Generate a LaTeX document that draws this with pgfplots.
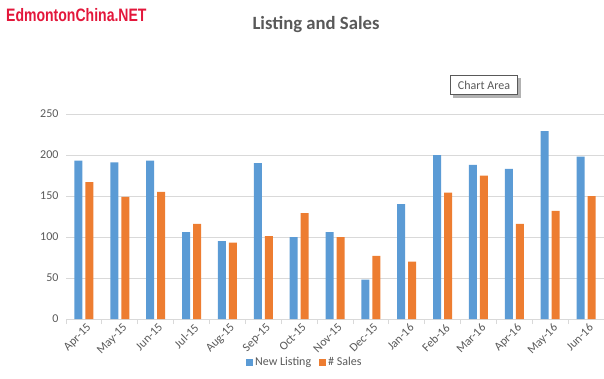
\documentclass[border=0pt]{standalone}
\usepackage{pgfplots}
\pgfplotsset{compat=1.18}
\usepackage{fontspec}
\setmainfont{Carlito}
\newfontfamily\wmfont{Liberation Sans}
\definecolor{xblue}{HTML}{5B9BD5}
\definecolor{xorange}{HTML}{ED7D31}
\definecolor{xtext}{HTML}{595959}
\definecolor{xgrid}{HTML}{D9D9D9}
\definecolor{wmred}{HTML}{E3173B}
\begin{document}
\begin{tikzpicture}[x=1pt,y=1pt]
\useasboundingbox (0,0) rectangle (604,378);
\begin{axis}[
  at={(66pt,59pt)}, anchor=south west,
  scale only axis, width=538pt, height=205pt,
  ybar=3pt, bar width=8pt,
  ymin=0, ymax=250, xmin=-0.5, xmax=14.5,
  ytick={0,50,...,250},
  ymajorgrids, grid style={draw=xgrid, line width=0.75pt},
  axis x line*=bottom, axis y line*=left,
  x axis line style={draw=xgrid, line width=0.75pt, -},
  y axis line style={draw=none},
  xtick={0,...,14},
  xticklabels={Apr-15,May-15,Jun-15,Jul-15,Aug-15,Sep-15,Oct-15,Nov-15,Dec-15,Jan-16,Feb-16,Mar-16,Apr-16,May-16,Jun-16},
  minor xtick={-0.5,0.5,...,14.5},
  major tick length=0pt, minor tick length=5pt,
  tick align=outside,
  minor tick style={draw=xgrid, line width=0.75pt},
  major tick style={draw=none},
  x tick label style={rotate=45, anchor=north east, font=\fontsize{12}{14}\selectfont, text=xtext, inner sep=1pt, yshift=-3pt},
  y tick label style={font=\fontsize{12}{14}\selectfont, text=xtext},
  yticklabel style={xshift=-4pt},
  /pgf/number format/assume math mode=true,
  legend style={at={(0.444,-0.21)}, anchor=center, draw=none, fill=none,
    font=\fontsize{12}{14}\selectfont, text=xtext, legend columns=2,
    /tikz/every even column/.append style={column sep=6pt}},
  every axis plot post/.append style={legend image code/.code={\fill[#1] (0pt,-3.5pt) rectangle (7pt,3.5pt);}},
  clip=false,
]
\addplot[fill=xblue, draw=none] coordinates {(0,193)(1,191)(2,193)(3,106)(4,95)(5,190)(6,100)(7,106)(8,48)(9,140)(10,200)(11,188)(12,183)(13,229)(14,198)};
\addplot[fill=xorange, draw=none] coordinates {(0,167)(1,149)(2,155)(3,116)(4,93)(5,101)(6,129)(7,100)(8,77)(9,70)(10,154)(11,175)(12,116)(13,132)(14,150)};
\legend{New Listing,\# Sales}
\end{axis}
\node[text=xtext, font=\fontsize{18.7}{22}\selectfont\bfseries] at (316,353) {Listing and Sales};
\node[anchor=west, text=wmred, font=\wmfont\fontsize{18}{20}\selectfont\bfseries, xscale=0.78, transform shape, inner sep=0pt] at (6,363) {EdmontonChina.NET};
\fill[black!30] (453,280) rectangle (521,300);
\node[draw=xtext, fill=white, line width=0.75pt, text=xtext, font=\fontsize{12}{14}\selectfont, minimum width=67pt, minimum height=19pt, inner sep=2pt] at (484,293) {Chart Area};
\end{tikzpicture}
\end{document}
